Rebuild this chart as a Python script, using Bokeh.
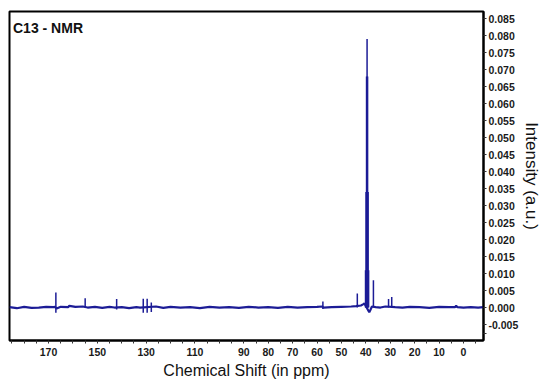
from bokeh.plotting import figure
from bokeh.models import Range1d, FixedTicker, Label, NumeralTickFormatter
from bokeh.embed import file_html
from bokeh.resources import INLINE

# ---------------- data ----------------
title_text = "C13 - NMR"
x_label = "Chemical Shift (in ppm)"
y_label = "Intensity (a.u.)"

# x axis: labelled ticks and unlabelled 5-ppm ticks
x_labelled_ticks = [170, 150, 130, 110, 90, 80, 70, 60, 50, 40, 30, 20, 10, 0]
x_minor_ticks = [185, 180, 175, 165, 160, 155, 145, 140, 135, 125, 120, 115, 105,
                 100, 95, 85, 75, 65, 55, 45, 35, 25, 15, 5, -5]
# y axis ticks
y_labelled_ticks = [-0.005, 0.0, 0.005, 0.010, 0.015, 0.020, 0.025, 0.030, 0.035,
                    0.040, 0.045, 0.050, 0.055, 0.060, 0.065, 0.070, 0.075, 0.080, 0.085]
y_minor_ticks = [-0.0075]

# baseline (noise) of the spectrum, ppm and intensity
base_ppm = [186, 183, 180, 177, 174, 171, 168, 167.3, 166.7, 165, 162, 161.5, 159, 156,
            154, 151, 148, 145, 143, 140, 137, 134, 132.5, 126, 123, 120, 116, 112, 108,
            104, 100, 96, 92, 88, 84, 80, 76, 72, 68, 64, 60, 57.8, 57.4, 54, 50, 46,
            44, 42, 41, 40.6, 38.6, 38.2, 37.5, 36, 34, 32, 28, 25, 22, 18, 14, 10, 6,
            3.5, 3.0, 2.5, 0, -3, -6, -8.2]
base_int = [0.0001, -0.0002, 0.0002, -0.0001, 0.0000, 0.0002, 0.0001, 0.0002, -0.0003,
            0.0002, 0.0001, 0.0005, 0.0002, 0.0003, 0.0000, 0.0002, -0.0001, 0.0002,
            0.0000, 0.0001, -0.0002, 0.0001, 0.0000, 0.0003, -0.0001, 0.0002, 0.0000,
            0.0001, -0.0002, 0.0002, 0.0000, 0.0001, -0.0001, 0.0002, 0.0000, 0.0001,
            -0.0001, 0.0002, 0.0000, 0.0001, 0.0002, 0.0003, 0.0000, 0.0001, 0.0002,
            0.0003, 0.0004, 0.0006, 0.0010, 0.0012, -0.0014, -0.0008, 0.0003, 0.0001,
            0.0000, 0.0003, 0.0001, 0.0000, 0.0002, 0.0001, -0.0001, 0.0002, 0.0001,
            0.0001, 0.0005, 0.0001, 0.0000, 0.0001, 0.0000, 0.0001]

# sharp sample peaks: position, top and lowest point of the line
peak_ppm = [167.0, 155.0, 142.1, 131.2, 129.6, 127.9, 57.6, 43.5, 36.9, 30.7, 29.4]
peak_top = [0.0044, 0.0027, 0.0025, 0.0026, 0.0026, 0.0015, 0.0018, 0.0041, 0.0080, 0.0025, 0.0031]
peak_low = [-0.0015, 0.0, -0.0006, -0.0015, -0.0015, -0.0013, -0.0004, 0.0, 0.0, 0.0, 0.0]

# DMSO-d6 solvent septet
dmso_ppm = [40.13, 39.92, 39.71, 39.50, 39.29, 39.08, 38.87]
dmso_int = [0.011, 0.034, 0.068, 0.079, 0.068, 0.034, 0.011]

# ---------------- figure ----------------
line_color = "#1c1c96"
font = "Liberation Sans"
x_lo, x_hi = 186.0, -8.2
y_lo, y_hi = -0.0097, 0.0871
frame_w, frame_h = 476, 329

p = figure(width=544, height=385, x_range=Range1d(x_lo, x_hi), y_range=Range1d(y_lo, y_hi),
           y_axis_location="right", toolbar_location=None, output_backend="svg",
           min_border=0, min_border_left=9, min_border_top=11,
           min_border_right=59, min_border_bottom=45)
p.xgrid.visible = False
p.ygrid.visible = False
p.outline_line_color = "black"
p.outline_line_width = 2
p.background_fill_color = "white"
p.border_fill_color = "white"

p.line(base_ppm, base_int, line_color=line_color, line_width=2.2)
p.segment(x0=peak_ppm, y0=peak_low, x1=peak_ppm, y1=peak_top, line_color=line_color, line_width=1.5)
p.segment(x0=dmso_ppm, y0=[0.0] * len(dmso_ppm), x1=dmso_ppm, y1=dmso_int,
          line_color=line_color, line_width=1.5)

# axes
xa = p.xaxis[0]
xa.ticker = FixedTicker(ticks=x_labelled_ticks, minor_ticks=x_minor_ticks)
ya = p.yaxis[0]
ya.ticker = FixedTicker(ticks=y_labelled_ticks, minor_ticks=y_minor_ticks)
ya.formatter = NumeralTickFormatter(format="0.000")

for ax in (xa, ya):
    ax.axis_line_color = "black"
    ax.axis_line_width = 2
    ax.major_tick_line_color = "#333333"
    ax.minor_tick_line_color = "#333333"
    ax.major_tick_in = 0
    ax.minor_tick_in = 0
    ax.major_tick_out = 3
    ax.minor_tick_out = 3
    ax.major_label_text_font = font
    ax.major_label_text_font_style = "bold"
    ax.major_label_text_font_size = "10.5px"
    ax.major_label_text_color = "#1a1a1a"
    ax.axis_label_text_font = font
    ax.axis_label_text_font_style = "normal"
    ax.axis_label_text_color = "#111111"

xa.axis_label = x_label
xa.axis_label_text_font_size = "16px"
xa.major_label_standoff = 4
xa.axis_label_standoff = 3
ya.axis_label = y_label
ya.axis_label_text_font_size = "17px"
ya.major_label_standoff = 2
ya.axis_label_standoff = 1

px_x = (x_hi - x_lo) / frame_w   # ppm per pixel (negative, reversed axis)
px_y = (y_hi - y_lo) / frame_h   # intensity per pixel
p.add_layout(Label(x=x_lo + 3.5 * px_x, y=y_hi - 16 * px_y, text=title_text, text_font=font,
                   text_font_style="bold", text_font_size="14px", text_baseline="middle",
                   text_align="left", text_color="#111111"))

open("out.html", "w").write(file_html(p, INLINE))
